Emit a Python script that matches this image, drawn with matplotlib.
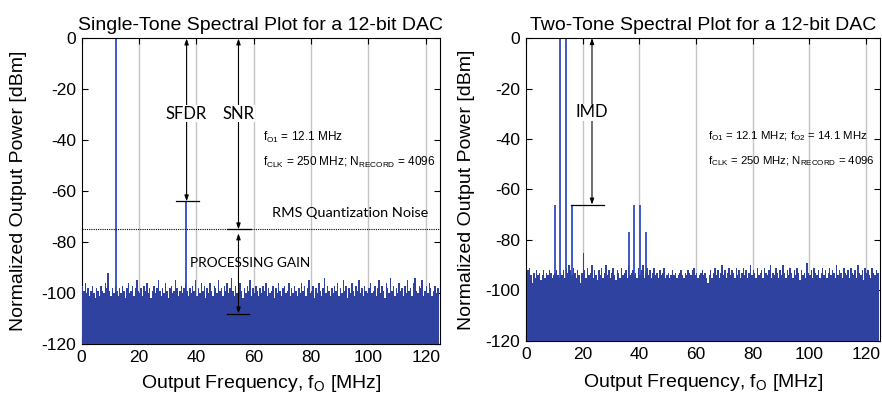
import matplotlib
matplotlib.use("Agg")
import matplotlib.pyplot as plt
import numpy as np

plt.rcParams["font.family"] = ["Liberation Sans", "DejaVu Sans"]
plt.rcParams["mathtext.fontset"] = "custom"
plt.rcParams["mathtext.rm"] = "Liberation Sans"
plt.rcParams["mathtext.it"] = "Liberation Sans"
plt.rcParams["mathtext.default"] = "regular"
plt.rcParams["axes.unicode_minus"] = False

# noise floor envelope, one value per 0.5 MHz bin (0 .. 125 MHz)
BIN_MHZ = 0.5
single_noise_db = [
    -97, -99, -96, -100, -98, -101, -99, -97, -100, -102, -98, -99, -101, -97, -99, -100, -96, -98, -92, -99, -101, -98, -100, -97, -99,
    -101, -98, -100, -97, -99, -102, -98, -96, -100, -99, -97, -101, -98, -95, -99, -100, -98, -101, -97, -99, -96, -100, -98, -102, -99,
    -97, -100, -98, -95, -99, -101, -98, -100, -96, -99, -102, -98, -97, -100, -99, -95, -98, -101, -99, -97, -100, -98, -96, -99, -101,
    -98, -100, -97, -99, -95, -101, -98, -100, -96, -99, -97, -102, -98, -100, -96, -99, -101, -97, -98, -100, -95, -99, -98, -101, -97,
    -99, -96, -100, -98, -94, -99, -101, -97, -100, -98, -96, -99, -102, -98, -100, -97, -99, -95, -101, -98, -100, -97, -99, -101, -98,
    -100, -97, -99, -96, -101, -98, -100, -99, -97, -102, -98, -100, -96, -99, -101, -98, -97, -100, -99, -96, -101, -98, -100, -97, -99,
    -101, -98, -100, -96, -99, -97, -101, -98, -95, -100, -99, -97, -102, -98, -100, -96, -99, -101, -98, -94, -100, -97, -99, -101, -98,
    -100, -97, -99, -96, -101, -98, -100, -95, -99, -97, -102, -98, -100, -96, -99, -101, -97, -99, -95, -100, -98, -101, -97, -99, -100,
    -98, -96, -100, -99, -97, -101, -98, -95, -100, -97, -99, -102, -96, -98, -100, -94, -99, -97, -101, -98, -100, -96, -99, -98, -101,
    -97, -100, -95, -99, -98, -101, -96, -94, -99, -100, -97, -98, -95, -101, -99, -97, -100, -96, -98, -101, -99, -97, -100, -98, -99,
]
two_noise_db = [
    -93, -92, -91, -94, -97, -93, -95, -92, -94, -93, -96, -94, -92, -95, -93, -94, -92, -93, -95, -94, -93, -92, -94, -95, -93,
    -94, -92, -95, -91, -93, -90, -92, -94, -91, -93, -95, -92, -94, -97, -93, -85, -92, -95, -91, -94, -93, -90, -95, -92, -94,
    -96, -92, -94, -91, -95, -93, -90, -94, -92, -95, -93, -91, -94, -96, -92, -93, -95, -91, -94, -93, -92, -95, -90, -94, -93,
    -92, -94, -93, -95, -91, -94, -92, -90, -95, -93, -91, -94, -92, -95, -93, -91, -94, -93, -95, -92, -94, -93, -91, -95, -94,
    -93, -95, -94, -92, -94, -93, -95, -94, -93, -92, -94, -95, -93, -94, -92, -93, -94, -92, -91, -94, -93, -95, -94, -93, -92,
    -94, -93, -95, -97, -94, -92, -95, -93, -91, -94, -92, -95, -93, -90, -94, -92, -95, -93, -91, -94, -92, -93, -95, -91, -94,
    -92, -95, -93, -91, -94, -92, -95, -93, -90, -94, -92, -93, -95, -91, -94, -93, -92, -95, -91, -93, -94, -92, -90, -95, -93,
    -94, -91, -93, -95, -92, -94, -90, -93, -95, -92, -94, -91, -93, -95, -92, -94, -91, -93, -96, -92, -94, -93, -95, -89, -93,
    -94, -92, -95, -91, -93, -94, -92, -95, -93, -91, -94, -92, -95, -93, -91, -94, -92, -93, -95, -90, -94, -92, -93, -95, -91,
    -93, -94, -92, -95, -91, -93, -94, -92, -95, -90, -93, -94, -92, -96, -91, -93, -92, -94, -95, -91, -93, -94, -92, -93, -94,
]

# tones and spurs
single_tone_mhz = [12.1, 36.3]
single_tone_db = [0, -64]
two_tone_mhz = [10.1, 12.1, 14.1, 16.1, 36.3, 38.3, 40.3, 42.3]
two_tone_db = [-66, 0, 0, -66, -77, -66, -66, -77]

# annotation levels
sfdr_db = -64
rms_noise_db = -75
proc_gain_floor_db = -108
imd_db = -66

NOISE_COLOR = "#2f42a0"
TONE_COLOR = "#4059c8"
GRID_COLOR = "#c4c4c4"
X_TICKS = [0, 20, 40, 60, 80, 100, 120]
Y_TICKS = [0, -20, -40, -60, -80, -100, -120]


def style_axes(ax, title, ylab_x, xlab_y):
    ax.set_xlim(0, 125)
    ax.set_ylim(-120, 0)
    ax.set_xticks(X_TICKS)
    ax.set_yticks(Y_TICKS)
    ax.tick_params(direction="in", length=4, width=0.8, labelsize=12.5,
                   top=True, right=True, pad=4)
    for x in X_TICKS[1:]:
        ax.axvline(x, color=GRID_COLOR, lw=1.0, zorder=0)
    for s in ax.spines.values():
        s.set_linewidth(0.8)
    ax.set_title(title, fontsize=14, pad=6)
    ax.set_xlabel("Output Frequency, $f_O$ [MHz]", fontsize=14)
    ax.set_ylabel("Normalized Output Power [dBm]", fontsize=14)
    ax.yaxis.set_label_coords(ylab_x, 0.5)
    ax.xaxis.set_label_coords(0.5, xlab_y)


def draw_spectrum(ax, noise, tone_f, tone_db):
    freqs = (np.arange(len(noise)) + 0.5) * BIN_MHZ
    ax.vlines(tone_f, -120, tone_db, color=TONE_COLOR, lw=1.4, zorder=2)
    ax.fill_between(freqs, -120, noise, step="mid", color=NOISE_COLOR,
                    lw=0, zorder=3)


def arrow(ax, x, y0, y1):
    ax.annotate("", xy=(x, y1), xytext=(x, y0),
                arrowprops=dict(arrowstyle="<|-|>,head_length=0.35,head_width=0.12",
                                color="black", lw=0.8, shrinkA=0, shrinkB=0),
                zorder=5)


fig = plt.figure(figsize=(8.82, 3.96), dpi=100)
ax1 = fig.add_axes([0.0926, 0.131, 0.4063, 0.772])
ax2 = fig.add_axes([0.5964, 0.139, 0.4013, 0.765])

# single tone
style_axes(ax1, "Single-Tone Spectral Plot for a 12-bit DAC", -0.153, -0.093)
draw_spectrum(ax1, single_noise_db, single_tone_mhz, single_tone_db)
ax1.axhline(rms_noise_db, color="black", ls=(0, (1, 1)), lw=0.8, zorder=4)
arrow(ax1, 36.6, 0, sfdr_db)
ax1.plot([32.9, 40.9], [sfdr_db, sfdr_db], color="black", lw=0.9, zorder=5)
arrow(ax1, 54.7, 0, rms_noise_db)
ax1.plot([50.7, 59.2], [rms_noise_db, rms_noise_db], color="black", lw=0.9, zorder=5)
arrow(ax1, 54.7, rms_noise_db - 1.5, proc_gain_floor_db)
ax1.plot([50.7, 58.5], [proc_gain_floor_db, proc_gain_floor_db], color="black", lw=0.9, zorder=5)
lab = dict(family=["Lato", "DejaVu Sans"], ha="center", va="center", zorder=6,
           bbox=dict(facecolor="white", edgecolor="none", pad=0.5))
ax1.text(36.6, -29.5, "SFDR", fontsize=12, **lab)
ax1.text(54.7, -29.5, "SNR", fontsize=12, **lab)
ax1.text(93.5, -71, "RMS Quantization Noise", fontsize=10.4,
         family=["Lato", "DejaVu Sans"], ha="center", va="bottom", zorder=6)
ax1.text(58.8, -88, "PROCESSING GAIN", fontsize=9.8, family=["Lato", "DejaVu Sans"],
         ha="center", va="center", zorder=6)
ax1.text(63.3, -39, "$f_{O1}$ = 12.1 MHz", fontsize=8.5, ha="left", va="center")
ax1.text(63.3, -48.7, "$f_{CLK}$ = 250 MHz; $N_{RECORD}$ = 4096", fontsize=8.5,
         ha="left", va="center")

# two tone
style_axes(ax2, "Two-Tone Spectral Plot for a 12-bit DAC", -0.144, -0.103)
draw_spectrum(ax2, two_noise_db, two_tone_mhz, two_tone_db)
arrow(ax2, 23.3, 0, imd_db)
ax2.plot([15.9, 27.5], [imd_db, imd_db], color="black", lw=0.9, zorder=5)
ax2.text(23.3, -29.5, "IMD", fontsize=12, **lab)
ax2.text(64.3, -39, "$f_{O1}$ = 12.1 MHz; $f_{O2}$ = 14.1 MHz", fontsize=8.2,
         ha="left", va="center")
ax2.text(64.3, -48.7, "$f_{CLK}$ = 250 MHz; $N_{RECORD}$ = 4096", fontsize=8.2,
         ha="left", va="center")

fig.savefig("out.png", dpi=100)
